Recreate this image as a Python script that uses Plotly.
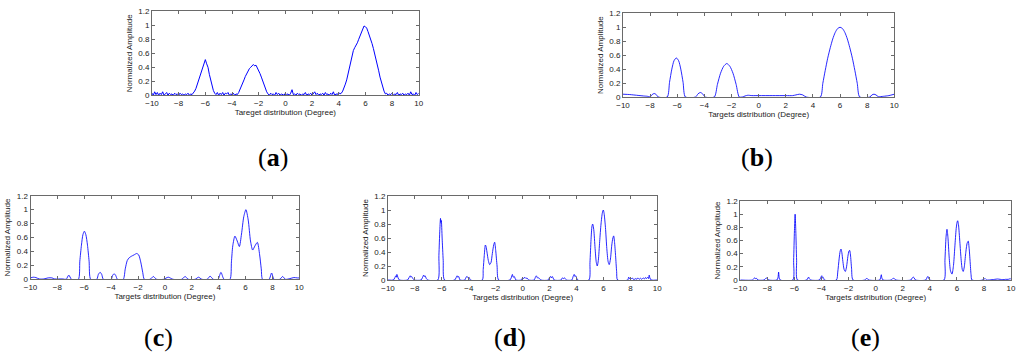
import plotly.graph_objects as go

# ---------------- data ----------------
# (a) target distribution (noisy), sampled every 0.1 degree
a_x = [-10.0,-9.9,-9.8,-9.7,-9.6,-9.5,-9.4,-9.3,-9.2,-9.1,
       -9.0,-8.9,-8.8,-8.7,-8.6,-8.5,-8.4,-8.3,-8.2,-8.1,
       -8.0,-7.9,-7.8,-7.7,-7.6,-7.5,-7.4,-7.3,-7.2,-7.1,
       -7.0,-6.9,-6.8,-6.7,-6.6,-6.5,-6.4,-6.3,-6.2,-6.1,
       -6.0,-5.9,-5.8,-5.7,-5.6,-5.5,-5.4,-5.3,-5.2,-5.1,
       -5.0,-4.9,-4.8,-4.7,-4.6,-4.5,-4.4,-4.3,-4.2,-4.1,
       -4.0,-3.9,-3.8,-3.7,-3.6,-3.5,-3.4,-3.3,-3.2,-3.1,
       -3.0,-2.9,-2.8,-2.7,-2.6,-2.5,-2.4,-2.3,-2.2,-2.1,
       -2.0,-1.9,-1.8,-1.7,-1.6,-1.5,-1.4,-1.3,-1.2,-1.1,
       -1.0,-0.9,-0.8,-0.7,-0.6,-0.5,-0.4,-0.3,-0.2,-0.1,
       0.0,0.1,0.2,0.3,0.4,0.5,0.6,0.7,0.8,0.9,
       1.0,1.1,1.2,1.3,1.4,1.5,1.6,1.7,1.8,1.9,
       2.0,2.1,2.2,2.3,2.4,2.5,2.6,2.7,2.8,2.9,
       3.0,3.1,3.2,3.3,3.4,3.5,3.6,3.7,3.8,3.9,
       4.0,4.1,4.2,4.3,4.4,4.5,4.6,4.7,4.8,4.9,
       5.0,5.1,5.2,5.3,5.4,5.5,5.6,5.7,5.8,5.9,
       6.0,6.1,6.2,6.3,6.4,6.5,6.6,6.7,6.8,6.9,
       7.0,7.1,7.2,7.3,7.4,7.5,7.6,7.7,7.8,7.9,
       8.0,8.1,8.2,8.3,8.4,8.5,8.6,8.7,8.8,8.9,
       9.0,9.1,9.2,9.3,9.4,9.5,9.6,9.7,9.8,9.9,
       10.0]
a_y = [0.03,0.00,0.05,0.01,0.04,0.00,0.03,0.01,0.05,0.00,
       0.02,0.04,0.00,0.03,0.01,0.02,0.00,0.03,0.01,0.02,
       0.00,0.03,0.01,0.02,0.00,0.02,0.01,0.03,0.00,0.02,
       0.01,0.03,0.06,0.10,0.16,0.21,0.28,0.33,0.42,0.47,
       0.51,0.45,0.40,0.30,0.22,0.14,0.07,0.03,0.01,0.04,
       0.00,0.03,0.01,0.04,0.00,0.03,0.02,0.04,0.00,0.02,
       0.01,0.03,0.00,0.02,0.01,0.04,0.08,0.13,0.17,0.22,
       0.27,0.31,0.35,0.38,0.40,0.42,0.44,0.42,0.43,0.39,
       0.36,0.31,0.26,0.20,0.14,0.09,0.05,0.02,0.00,0.03,
       0.01,0.02,0.00,0.04,0.01,0.03,0.00,0.02,0.01,0.00,
       0.03,0.01,0.02,0.00,0.03,0.08,0.01,0.02,0.00,0.03,
       0.01,0.02,0.00,0.02,0.01,0.04,0.00,0.02,0.01,0.03,
       0.00,0.02,0.05,0.01,0.03,0.00,0.02,0.01,0.03,0.00,
       0.04,0.01,0.02,0.00,0.03,0.01,0.05,0.00,0.02,0.01,
       0.04,0.02,0.03,0.06,0.10,0.16,0.22,0.30,0.40,0.50,
       0.58,0.64,0.68,0.71,0.75,0.80,0.85,0.90,0.95,0.99,
       0.98,0.96,0.91,0.86,0.80,0.74,0.67,0.60,0.52,0.44,
       0.35,0.26,0.18,0.11,0.06,0.02,0.03,0.00,0.02,0.01,
       0.03,0.00,0.02,0.01,0.04,0.00,0.02,0.01,0.03,0.00,
       0.02,0.01,0.03,0.00,0.05,0.01,0.02,0.00,0.04,0.01,
       0.03]

# (b)
b_x = [-10.0,-9.5,-9.0,-8.5,-8.2,-8.0,-7.85,-7.7,-7.55,-7.4,
       -6.74,-6.57,-6.40,-6.24,-6.07,-5.90,-5.74,-5.57,-5.40,
       -4.65,-4.47,-4.30,-4.13,-3.95,
       -3.27,-3.04,-2.81,-2.58,-2.35,-2.12,-1.89,-1.66,-1.43,
       -1.2,-1.0,-0.8,-0.5,0.0,1.0,2.0,2.5,2.75,3.0,3.25,3.5,
       4.55,4.73,4.91,5.09,5.28,5.46,5.64,5.82,6.0,6.18,6.36,6.54,6.72,6.91,7.09,7.27,7.45,
       8.2,8.35,8.5,8.65,8.82,9.2,9.6,10.0]
b_y = [0.04,0.035,0.025,0.015,0.01,0.0,0.035,0.05,0.035,0.0,
       0.0,0.21,0.40,0.52,0.56,0.52,0.40,0.21,0.0,
       0.0,0.045,0.065,0.045,0.0,
       0.0,0.18,0.34,0.44,0.48,0.44,0.34,0.18,0.0,
       0.0,0.015,0.025,0.02,0.02,0.02,0.02,0.02,0.03,0.04,0.03,0.0,
       0.0,0.195,0.383,0.556,0.707,0.831,0.924,0.981,1.0,0.981,0.924,0.831,0.707,0.556,0.383,0.195,0.0,
       0.0,0.03,0.04,0.03,0.005,0.01,0.02,0.04]

# (c)
c_x = [-10.0,-9.8,-9.6,-9.35,-9.0,-8.7,-8.4,-8.2,-7.6,-7.35,-7.15,-6.95,
       -6.44,-6.33,-6.21,-6.10,-5.99,-5.88,-5.76,-5.64,-5.52,
       -5.07,-4.95,-4.82,-4.70,-4.58,
       -4.0,-3.89,-3.78,-3.66,-3.53,
       -3.1,-2.95,-2.8,-2.65,-2.5,-2.3,-2.1,-1.95,-1.8,-1.65,-1.53,
       -1.1,-0.86,-0.62,-0.1,0.25,0.6,1.25,1.5,1.75,2.25,2.5,2.75,
       3.15,3.36,3.6,3.95,4.17,4.4,
       4.84,4.95,5.05,5.21,5.38,5.54,5.7,5.87,6.03,6.2,6.37,6.53,6.7,6.88,7.05,7.17,7.27,
       7.75,7.94,8.12,8.55,8.76,8.97,9.3,9.6,9.85,10.0]
c_y = [0.02,0.03,0.025,0.005,0.005,0.02,0.02,0.005,0.005,0.0,0.06,0.0,
       0.0,0.26,0.49,0.64,0.69,0.64,0.49,0.26,0.0,
       0.0,0.07,0.10,0.07,0.0,
       0.0,0.055,0.08,0.055,0.0,
       0.0,0.15,0.27,0.31,0.33,0.35,0.37,0.35,0.25,0.10,0.0,
       0.0,0.04,0.0,0.0,0.03,0.0,0.0,0.04,0.0,0.0,0.03,0.0,
       0.0,0.045,0.0,0.0,0.10,0.0,
       0.0,0.25,0.48,0.62,0.55,0.47,0.65,0.90,1.0,0.85,0.55,0.42,0.48,0.53,0.35,0.15,0.0,
       0.0,0.09,0.0,0.0,0.04,0.0,0.01,0.025,0.02,0.02]

# (d)
d_x = [-10.0,-9.6,-9.5,-9.42,-9.38,-9.34,-9.25,-9.15,
       -8.55,-8.45,-8.35,-8.3,-8.25,-8.15,-8.05,
       -7.55,-7.45,-7.35,-7.3,-7.25,-7.15,-7.05,
       -6.3,-6.22,-6.15,-6.1,-6.07,-6.04,-5.98,-5.9,-5.8,
       -5.05,-4.95,-4.87,-4.82,-4.75,-4.65,
       -4.3,-4.2,-4.12,-4.05,-3.98,-3.88,
       -3.0,-2.93,-2.85,-2.77,-2.72,-2.65,-2.55,-2.45,-2.35,-2.25,-2.15,-2.08,-2.0,-1.9,-1.78,
       -0.95,-0.85,-0.76,-0.7,-0.62,-0.5,
       -0.1,0.0,0.08,0.15,0.25,0.32,0.45,
       0.85,0.95,1.02,1.1,1.2,1.35,
       1.9,2.0,2.07,2.12,2.2,2.35,
       2.85,2.95,3.05,3.12,3.25,
       3.65,3.75,3.83,3.88,3.95,4.08,
       4.92,5.0,5.08,5.15,5.2,5.28,5.38,5.47,5.54,5.62,5.72,5.82,5.92,5.99,6.05,6.15,6.25,6.35,6.43,6.52,6.62,6.7,6.76,6.82,6.9,6.98,7.05,
       7.8,7.87,7.93,8.0,8.08,8.15,8.25,8.4,8.48,8.55,8.65,8.75,8.85,8.95,9.05,9.12,9.2,9.28,9.35,9.4,9.45,9.55,10.0]
d_y = [0.0,0.0,0.03,0.06,0.04,0.08,0.03,0.0,
       0.0,0.03,0.06,0.04,0.05,0.02,0.0,
       0.0,0.03,0.07,0.05,0.06,0.02,0.0,
       0.0,0.35,0.72,0.88,0.82,0.85,0.60,0.28,0.0,
       0.0,0.03,0.06,0.04,0.05,0.0,
       0.0,0.04,0.05,0.03,0.04,0.0,
       0.0,0.15,0.35,0.50,0.48,0.40,0.28,0.22,0.25,0.38,0.50,0.54,0.42,0.20,0.0,
       0.0,0.03,0.08,0.04,0.05,0.0,
       0.0,0.03,0.02,0.04,0.02,0.03,0.0,
       0.0,0.04,0.06,0.03,0.03,0.0,
       0.0,0.04,0.05,0.03,0.05,0.0,
       0.0,0.03,0.02,0.03,0.0,
       0.0,0.05,0.08,0.05,0.06,0.0,
       0.0,0.25,0.58,0.77,0.80,0.72,0.45,0.25,0.20,0.28,0.55,0.80,0.96,1.0,0.95,0.75,0.45,0.26,0.22,0.30,0.50,0.60,0.63,0.55,0.35,0.12,0.0,
       0.0,0.04,0.02,0.035,0.015,0.03,0.005,0.02,0.01,0.03,0.01,0.025,0.01,0.03,0.015,0.035,0.02,0.04,0.02,0.07,0.03,0.0,0.0]

# (e)
e_x = [-10.0,-9.1,-9.0,-8.93,-8.87,-8.8,-8.7,
       -8.25,-8.15,-8.08,-8.0,-7.9,
       -7.3,-7.22,-7.17,-7.13,-7.05,
       -6.12,-6.06,-6.0,-5.95,-5.9,-5.84,-5.78,
       -5.1,-5.0,-4.95,-4.9,-4.8,
       -4.15,-4.05,-3.98,-3.93,-3.87,-3.78,
       -2.9,-2.8,-2.7,-2.62,-2.56,-2.5,-2.42,-2.33,-2.24,-2.15,-2.05,-1.97,-1.92,-1.86,-1.78,-1.67,
       -0.8,-0.7,-0.64,-0.58,-0.5,
       0.3,0.36,0.42,0.46,0.55,
       1.15,1.25,1.33,1.42,1.5,
       2.6,2.7,2.78,2.85,2.95,
       3.7,3.8,3.86,3.92,4.0,
       5.05,5.12,5.2,5.27,5.34,5.43,5.53,5.64,5.75,5.85,5.95,6.02,6.06,6.12,6.22,6.32,6.4,6.47,6.55,6.65,6.76,6.84,6.9,6.98,7.05,7.12,
       7.9,8.0,8.05,8.1,8.2,8.6,8.8,9.0,9.2,9.4,9.6,9.8,9.95,10.0]
e_y = [0.0,0.0,0.02,0.035,0.02,0.025,0.0,
       0.0,0.02,0.03,0.02,0.0,
       0.0,0.03,0.12,0.04,0.0,
       0.0,0.30,0.75,1.0,0.75,0.30,0.0,
       0.0,0.03,0.045,0.02,0.0,
       0.0,0.04,0.065,0.03,0.04,0.0,
       0.0,0.12,0.32,0.44,0.47,0.42,0.28,0.16,0.13,0.20,0.36,0.44,0.45,0.38,0.18,0.0,
       0.0,0.02,0.025,0.015,0.0,
       0.0,0.03,0.08,0.03,0.0,
       0.0,0.02,0.025,0.015,0.0,
       0.0,0.03,0.045,0.03,0.0,
       0.0,0.04,0.055,0.03,0.0,
       0.0,0.30,0.65,0.77,0.65,0.35,0.14,0.09,0.22,0.50,0.78,0.88,0.90,0.84,0.58,0.30,0.16,0.13,0.20,0.40,0.56,0.59,0.50,0.28,0.08,0.0,
       0.0,0.025,0.015,0.02,0.0,0.005,0.01,0.015,0.01,0.005,0.01,0.01,0.02,0.01]

panel_letters = ["a", "b", "c", "d", "e"]
x_titles = ["Tareget distribution (Degree)", "Targets distribution (Degree)",
            "Targets distribution (Degree)", "Targets distribution (Degree)",
            "Targets distribution (Degree)"]
y_title = "Normalized Amplitude"
x_ticks = [-10, -8, -6, -4, -2, 0, 2, 4, 6, 8, 10]
y_ticks = [0, 0.2, 0.4, 0.6, 0.8, 1.0, 1.2]

# ---------------- layout geometry (pixels) ----------------
W, H = 1024, 359
# left, right, top, bottom of each plot frame
frames = [(152, 418.7, 11.3, 95.3),
          (623, 894.3, 13.3, 97.0),
          (30.5, 299.3, 195.7, 279.3),
          (388, 657.3, 196.0, 280.0),
          (740.3, 1011, 201.0, 280.0)]
label_pos = [(273, 157), (757, 157), (158, 337), (510, 337), (865, 337)]

series = [(a_x, a_y, "linear", 1.0), (b_x, b_y, "spline", 0.85), (c_x, c_y, "spline", 0.85),
          (d_x, d_y, "spline", 0.85), (e_x, e_y, "spline", 0.85)]

fig = go.Figure()
font_fam = "Liberation Sans, Arial, sans-serif"
axis_col = "#6a6a6a"

for i, ((xs, ys, shape, lw), (l, r, t, b)) in enumerate(zip(series, frames)):
    n = "" if i == 0 else str(i + 1)
    line = dict(color="#0000ff", width=lw, shape=shape)
    if shape == "spline":
        line["smoothing"] = 0.7
    fig.add_trace(go.Scatter(x=xs, y=ys, mode="lines", line=line,
                             xaxis="x" + n, yaxis="y" + n, showlegend=False,
                             hoverinfo="skip"))
    common = dict(showline=True, linecolor=axis_col, linewidth=1, mirror="ticks",
                  ticks="inside", ticklen=3, tickcolor=axis_col, tickwidth=1,
                  showgrid=False, zeroline=False, automargin=False,
                  tickfont=dict(family=font_fam, size=8, color="#222"))
    fig.layout["xaxis" + n] = dict(
        common, domain=[l / W, r / W], range=[-10, 10], tickvals=x_ticks,
        anchor="y" + n,
        title=dict(text=x_titles[i], font=dict(family=font_fam, size=8, color="#222"),
                   standoff=2))
    fig.layout["yaxis" + n] = dict(
        common, domain=[1 - b / H, 1 - t / H], range=[0, 1.2], tickvals=y_ticks,
        anchor="x" + n,
        title=dict(text=y_title, font=dict(family=font_fam, size=8, color="#222"),
                   standoff=4))
    lx, ly = label_pos[i]
    fig.add_annotation(x=lx / W, y=1 - ly / H, xref="paper", yref="paper",
                       text="(<b>" + panel_letters[i] + "</b>)", showarrow=False,
                       font=dict(family="Liberation Serif, Times New Roman, serif",
                                 size=26, color="black"),
                       xanchor="center", yanchor="middle")

fig.update_layout(width=W, height=H, margin=dict(l=0, r=0, t=0, b=0),
                  paper_bgcolor="white", plot_bgcolor="white")

fig.write_html("out.html", config={"displayModeBar": False},
               post_script="document.body.style.margin='0';")
